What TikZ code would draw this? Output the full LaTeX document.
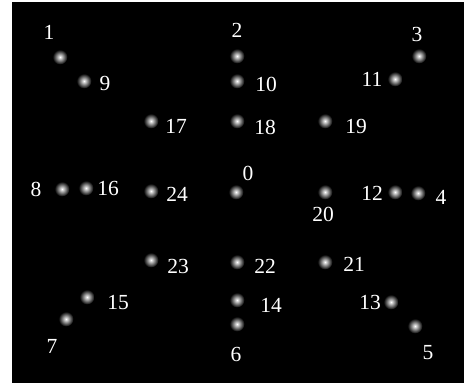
\documentclass[tikz,border=0pt]{standalone}
\usepackage{fontspec}
\setmainfont{Liberation Serif}
\begin{document}
\begin{tikzpicture}[x=1pt,y=-1pt,
  spot/.style={circle,minimum size=15pt,inner sep=0pt,inner color=white,outer color=black},
  tag/.style={text=white,font=\fontsize{21.5}{21.5}\selectfont,inner sep=0pt}]
  \useasboundingbox (0,0) rectangle (464,387);
  \fill[white] (0,0) rectangle (464,387);
  \fill[black] (12,2) rectangle (463.5,383.5);
  % dots and their numbers
  \foreach \n/\x/\y/\lx/\ly in {
    1/60/57/49/32, 9/84/81/105/83, 2/237/56/237/30, 10/237/81/266/84,
    3/419/56/417/34, 11/395/79/372/79, 17/151/121/176/126, 18/237/121/265/127,
    19/325/121/356/126, 8/62/189/36/189, 16/86/188/108/188, 24/151/191/177/194,
    0/236/192/248/173, 20/325/192/323/214, 12/395/192/372/193, 4/418/193/441/197,
    23/151/260/178/266, 22/237/262/265/266, 21/325/262/354/264, 15/87/297/118/303,
    7/66/319/52/346, 14/237/300/271/305, 6/237/324/236/354, 13/391/302/370/302,
    5/415/326/428/353}{
    \node[spot] (p\n) at (\x,\y) {};
    \node[tag] (t\n) at (\lx,\ly) {\n};
  }
\end{tikzpicture}
\end{document}
